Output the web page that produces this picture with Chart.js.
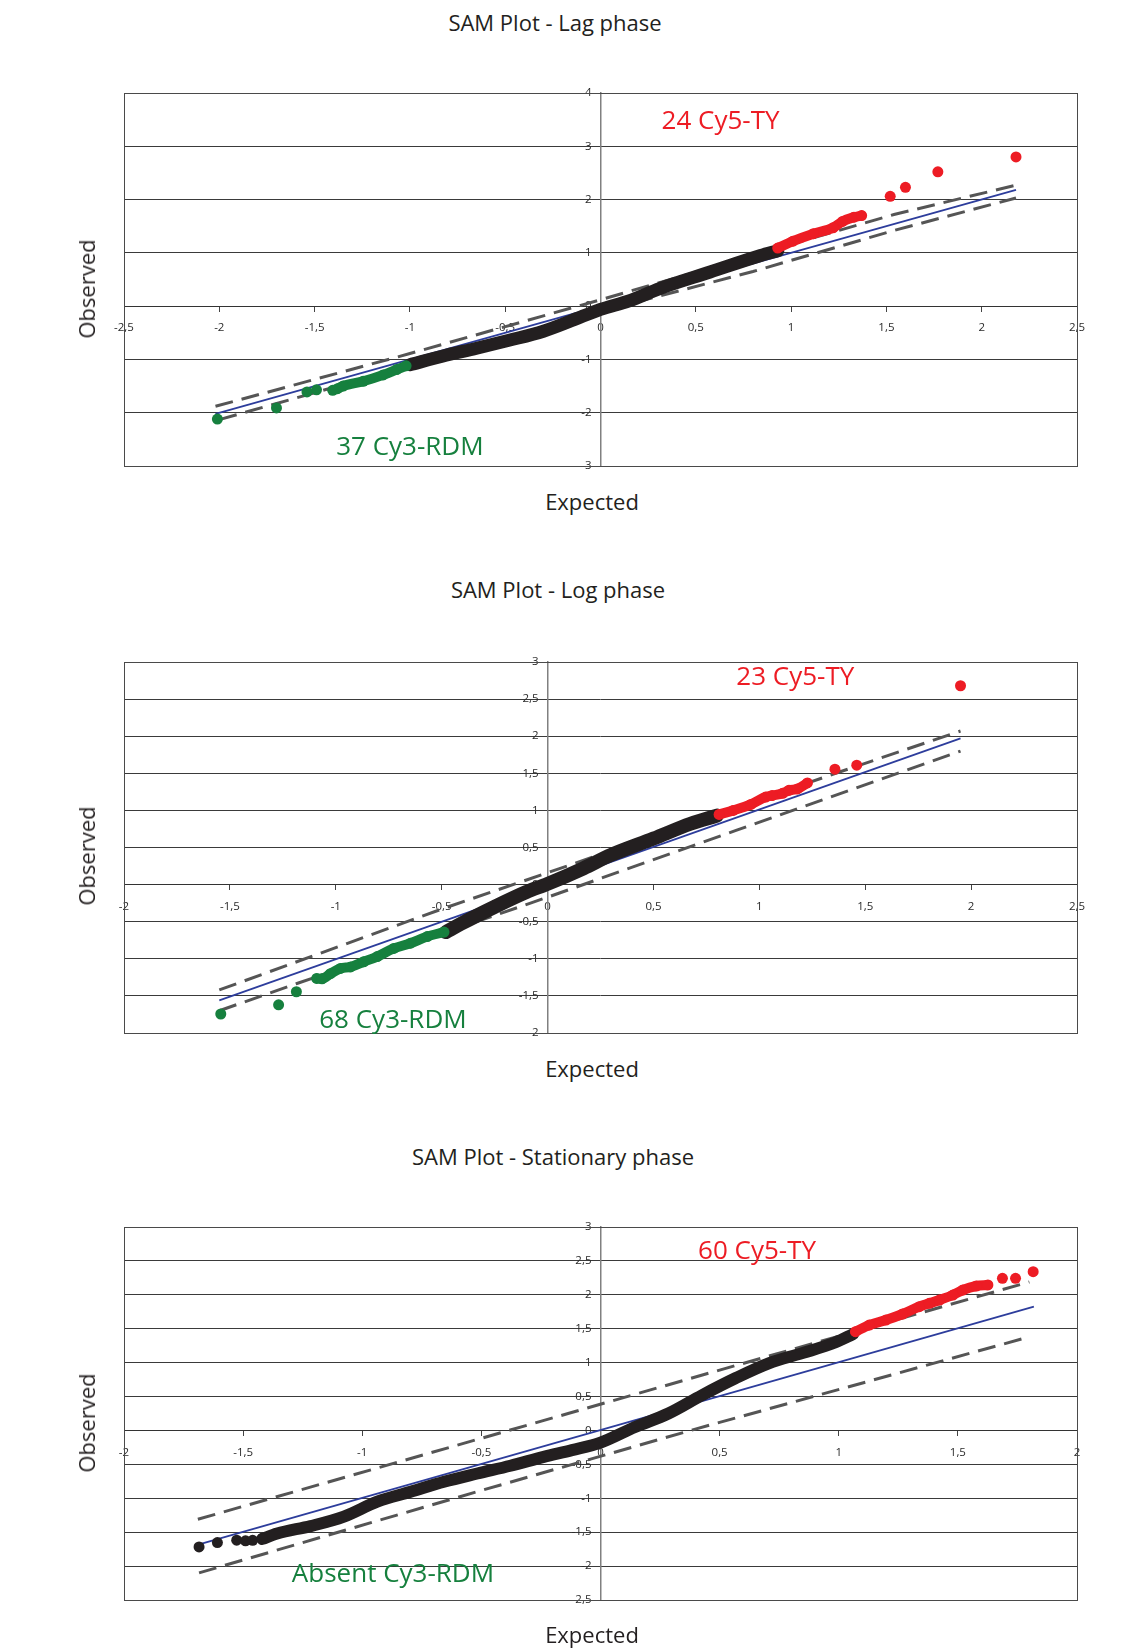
<!DOCTYPE html>
<html>
<head>
<meta charset="utf-8">
<title>SAM Plots</title>
<script src="https://cdn.jsdelivr.net/npm/chart.js@4.4.1/dist/chart.umd.min.js"></script>
<style>
  html, body { margin: 0; padding: 0; background: #fff; }
  #page { position: relative; width: 1140px; height: 1648px; overflow: hidden; font-family: "Open Sans", "Noto Sans", sans-serif; color: #231f20; }
  canvas { position: absolute; left: 0; }
  .txt { position: absolute; transform: translate(-50%, -50%); white-space: nowrap; line-height: 1; font-size: 22px; }
  .vert { transform: translate(-50%, -50%) rotate(-90deg); }
</style>
</head>
<body>
<div id="page">
  <canvas id="lag" width="1140" height="400" style="top:80px"></canvas>
  <canvas id="log" width="1140" height="400" style="top:650px"></canvas>
  <canvas id="stat" width="1140" height="420" style="top:1215px"></canvas>

  <div class="txt" style="left:555px; top:22px">SAM Plot - Lag phase</div>
  <div class="txt" style="left:592px; top:501px">Expected</div>
  <div class="txt vert" style="left:86px; top:289px">Observed</div>

  <div class="txt" style="left:558px; top:589px">SAM Plot - Log phase</div>
  <div class="txt" style="left:592px; top:1068px">Expected</div>
  <div class="txt vert" style="left:86px; top:856px">Observed</div>

  <div class="txt" style="left:553px; top:1156px">SAM Plot - Stationary phase</div>
  <div class="txt" style="left:592px; top:1634px">Expected</div>
  <div class="txt vert" style="left:86px; top:1423px">Observed</div>
</div>

<script>
// ---- data: [expected, observed] ----

// Lag phase
const lagBlack = [[-1.0, -1.10], [-0.83, -0.94], [-0.65, -0.79], [-0.48, -0.64], [-0.30, -0.47],
  [-0.15, -0.27], [0.0, -0.06], [0.15, 0.10], [0.31, 0.33], [0.575, 0.64], [0.84, 0.95], [0.93, 1.04]];
const lagGreenBand = [[-1.38, -1.55], [-1.35, -1.50], [-1.245, -1.41], [-1.14, -1.29], [-1.07, -1.19], [-1.02, -1.12]];
const lagGreenDots = [[-2.01, -2.12], [-1.70, -1.91], [-1.54, -1.61], [-1.49, -1.57], [-1.405, -1.58]];
const lagRedBand = [[0.93, 1.09], [1.01, 1.22], [1.117, 1.36], [1.22, 1.47], [1.27, 1.59], [1.33, 1.67], [1.37, 1.70]];
const lagRedDots = [[1.52, 2.06], [1.60, 2.23], [1.77, 2.52], [2.18, 2.80]];
const lagFit = [[-2.02, -2.02], [2.18, 2.18]];
const lagUpper = [[-2.02, -1.88], [-1.0, -0.89], [0.0, 0.12], [1.0, 1.16], [1.54, 1.72], [2.18, 2.27]];
const lagLower = [[-2.0, -2.13], [-1.0, -1.12], [0.0, -0.10], [0.8, 0.65], [1.54, 1.42], [2.18, 2.03]];

// Log phase
const logBlack = [[-0.48, -0.64], [-0.41, -0.53], [-0.25, -0.30], [-0.10, -0.10], [0.0, 0.01],
  [0.17, 0.22], [0.30, 0.40], [0.50, 0.62], [0.675, 0.82], [0.80, 0.93]];
const logGreenBand = [[-1.09, -1.265], [-1.065, -1.27], [-1.025, -1.20], [-0.978, -1.13], [-0.93, -1.11],
  [-0.868, -1.04], [-0.804, -0.97], [-0.726, -0.86], [-0.647, -0.79], [-0.568, -0.70], [-0.489, -0.64]];
const logGreenDots = [[-1.543, -1.744], [-1.27, -1.62], [-1.186, -1.444]];
const logRedBand = [[0.81, 0.946], [0.877, 1.0], [0.96, 1.08], [1.03, 1.18], [1.06, 1.20], [1.11, 1.23],
  [1.14, 1.27], [1.18, 1.29], [1.227, 1.37]];
const logRedDots = [[1.357, 1.556], [1.46, 1.61], [1.95, 2.68]];
const logFit = [[-1.55, -1.56], [1.95, 1.97]];
const logUpper = [[-1.55, -1.42], [-0.5, -0.33], [0.0, 0.16], [1.35, 1.49], [1.95, 2.07]];
const logLower = [[-1.55, -1.70], [-1.18, -1.33], [0.0, -0.17], [0.89, 0.73], [1.95, 1.80]];

// Stationary phase
const statBlackDots = [[-1.685, -1.717], [-1.608, -1.653], [-1.527, -1.618], [-1.49, -1.628], [-1.46, -1.62], [-1.42, -1.594]];
const statBlack = [[-1.42, -1.60], [-1.357, -1.52], [-1.217, -1.41], [-1.077, -1.27], [-0.937, -1.05],
  [-0.797, -0.905], [-0.657, -0.757], [-0.517, -0.635], [-0.378, -0.52], [-0.238, -0.39], [-0.12, -0.29],
  [0.0, -0.18], [0.145, 0.05], [0.285, 0.25], [0.426, 0.52], [0.566, 0.77], [0.706, 0.99], [0.847, 1.14],
  [0.987, 1.30], [1.06, 1.42]];
const statRedBand = [[1.07, 1.456], [1.128, 1.554], [1.198, 1.628], [1.268, 1.717], [1.338, 1.825], [1.38, 1.874],
  [1.423, 1.923], [1.479, 1.997], [1.521, 2.071], [1.577, 2.13], [1.626, 2.145]];
const statRedDots = [[1.687, 2.243], [1.742, 2.243], [1.816, 2.341]];
const statFit = [[-1.685, -1.68], [1.819, 1.825]];
const statUpper = [[-1.69, -1.31], [-0.136, 0.25], [0.5, 0.89], [1.80, 2.19]];
const statLower = [[-1.685, -2.10], [-0.52, -0.905], [0.383, 0.005], [1.80, 1.38]];

// axis ranges and tick steps
const lagX = [-2.5, 2.5], lagY = [-3, 4], lagYStep = 1;
const logX = [-2, 2.5], logY = [-2, 3], logYStep = 0.5;
const statX = [-2, 2], statY = [-2.5, 3], statYStep = 0.5;

const RED = '#ed1c24';
const GREEN = '#16803e';
const BLACK = '#231f20';
const BLUE = '#2d3d9c';
const DASH = '#555555';
const TICK_FONT = '11.5px "Open Sans", sans-serif';

const pts = arr => arr.map(([x, y]) => ({ x, y }));
const comma = v => String(Math.round(v * 100) / 100).replace('.', ',');

function dots(arr, color, r) {
  return { data: pts(arr), showLine: false, pointRadius: r || 5.5, backgroundColor: color, borderWidth: 0 };
}

function band(arr, color, width, r) {
  return {
    data: pts(arr), showLine: true, borderColor: color, borderWidth: width,
    borderCapStyle: 'round', borderJoinStyle: 'round', cubicInterpolationMode: 'monotone',
    pointRadius: r, pointBackgroundColor: color, pointBorderWidth: 0,
  };
}

function line(arr, color, width, dash) {
  return { data: pts(arr), showLine: true, borderColor: color, borderWidth: width, borderDash: dash || [], pointRadius: 0 };
}

// y tick labels sit left of the crossing axis; frame + free labels anchored in data units
const framePlugin = {
  id: 'frame',
  beforeDatasetsDraw(chart) {
    const { ctx, scales: { x, y } } = chart;
    const ax = x.getPixelForValue(0);
    ctx.save();
    ctx.font = TICK_FONT;
    ctx.fillStyle = '#2a2a2a';
    ctx.textAlign = 'right';
    ctx.textBaseline = 'middle';
    for (const t of y.ticks) {
      ctx.fillText(comma(t.value), ax - 9, y.getPixelForValue(t.value));
    }
    ctx.restore();
  },
  afterDraw(chart) {
    const { ctx, chartArea: a } = chart;
    ctx.save();
    ctx.strokeStyle = '#4a4a4a';
    ctx.lineWidth = 1;
    ctx.strokeRect(Math.round(a.left) + 0.5, Math.round(a.top) + 0.5, Math.round(a.right - a.left), Math.round(a.bottom - a.top));
    const labels = chart.options.plugins.frame.labels || [];
    ctx.font = '26px "Open Sans", sans-serif';
    ctx.textAlign = 'center';
    ctx.textBaseline = 'middle';
    for (const l of labels) {
      ctx.fillStyle = l.color;
      ctx.fillText(l.text, chart.scales.x.getPixelForValue(l.x), chart.scales.y.getPixelForValue(l.y));
    }
    ctx.restore();
  },
};

function makeChart(id, datasets, xr, yr, yStep, padding, labels) {
  const tickFont = { family: '"Open Sans", sans-serif', size: 11.5 };
  return new Chart(document.getElementById(id), {
    type: 'scatter',
    data: { datasets },
    options: {
      responsive: false,
      animation: false,
      events: [],
      layout: { padding },
      plugins: { legend: { display: false }, tooltip: { enabled: false }, frame: { labels } },
      scales: {
        x: {
          type: 'linear', min: xr[0], max: xr[1], position: { y: 0 },
          afterFit: s => { s.height = 0; },
          grid: { drawOnChartArea: false, drawTicks: true, tickLength: 5, color: '#444' },
          border: { color: '#333', width: 1 },
          ticks: { stepSize: 0.5, padding: 10, color: '#2a2a2a', font: tickFont, maxRotation: 0, autoSkip: false, callback: comma },
        },
        y: {
          type: 'linear', min: yr[0], max: yr[1], position: { x: 0 },
          afterFit: s => { s.width = 0; },
          grid: { color: '#3a3a3a', lineWidth: 1, drawTicks: true, tickLength: 4 },
          border: { color: '#808080', width: 1.5 },
          ticks: { stepSize: yStep, display: false, autoSkip: false },
        },
      },
    },
    plugins: [framePlugin],
  });
}

makeChart('lag', [
  dots(lagRedDots, RED),
  band(lagRedBand, RED, 10, 5.5),
  dots(lagGreenDots, GREEN),
  band(lagGreenBand, GREEN, 10, 5.5),
  band(lagBlack, BLACK, 13, 0),
  line(lagFit, BLUE, 1.8),
  line(lagUpper, DASH, 3, [18, 9]),
  line(lagLower, DASH, 3, [18, 9]),
], lagX, lagY, lagYStep, { left: 124, right: 63, top: 13, bottom: 14 }, [
  { text: '24 Cy5-TY', x: 0.63, y: 3.46, color: RED },
  { text: '37 Cy3-RDM', x: -1.0, y: -2.66, color: GREEN },
]);

makeChart('log', [
  dots(logRedDots, RED),
  band(logRedBand, RED, 10, 5.5),
  dots(logGreenDots, GREEN),
  band(logGreenBand, GREEN, 10, 5.5),
  band(logBlack, BLACK, 14, 0),
  line(logFit, BLUE, 1.8),
  line(logUpper, DASH, 3, [18, 9]),
  line(logLower, DASH, 3, [18, 9]),
], logX, logY, logYStep, { left: 124, right: 63, top: 12, bottom: 17 }, [
  { text: '23 Cy5-TY', x: 1.17, y: 2.79, color: RED },
  { text: '68 Cy3-RDM', x: -0.73, y: -1.83, color: GREEN },
]);

makeChart('stat', [
  dots(statRedDots, RED),
  band(statRedBand, RED, 10, 5.5),
  dots(statBlackDots, BLACK),
  band(statBlack, BLACK, 12, 0),
  line(statFit, BLUE, 1.8),
  line(statUpper, DASH, 3, [18, 9]),
  line(statLower, DASH, 3, [18, 9]),
], statX, statY, statYStep, { left: 124, right: 63, top: 12, bottom: 35 }, [
  { text: '60 Cy5-TY', x: 0.657, y: 2.64, color: RED },
  { text: 'Absent Cy3-RDM', x: -0.871, y: -2.13, color: GREEN },
]);
</script>
</body>
</html>
